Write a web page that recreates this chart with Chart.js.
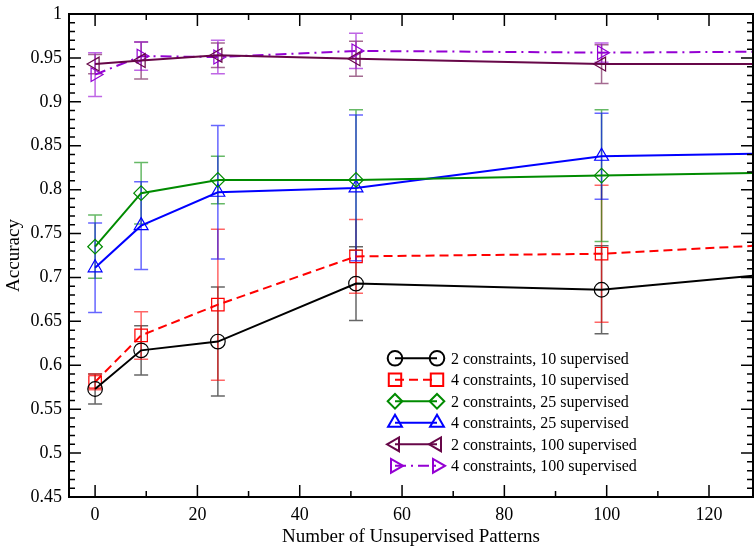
<!DOCTYPE html>
<html>
<head>
<meta charset="utf-8">
<script src="https://cdn.jsdelivr.net/npm/chart.js@4/dist/chart.umd.min.js"></script>
<style>
  html, body { margin: 0; padding: 0; background: #fff; }
  canvas { display: block; }
</style>
</head>
<body>
<canvas id="c" width="755" height="550"></canvas>
<script>
// ---------------- data ----------------
const xValues = [0, 9, 24, 51, 99, 128.6];
const seriesNames = [
  '2 constraints, 10 supervised',
  '4 constraints, 10 supervised',
  '2 constraints, 25 supervised',
  '4 constraints, 25 supervised',
  '2 constraints, 100 supervised',
  '4 constraints, 100 supervised'
];
const acc2c10  = [0.573, 0.617, 0.627, 0.693, 0.686, 0.702];
const err2c10  = [0.017, 0.028, 0.062, 0.042, 0.050, null];
const acc4c10  = [0.581, 0.634, 0.669, 0.724, 0.727, 0.736];
const err4c10  = [0.009, 0.027, 0.086, 0.042, 0.078, null];
const acc2c25  = [0.735, 0.796, 0.811, 0.811, 0.816, 0.819];
const err2c25  = [0.036, 0.035, 0.027, 0.080, 0.075, null];
const acc4c25  = [0.711, 0.759, 0.797, 0.802, 0.838, 0.841];
const err4c25  = [0.051, 0.050, 0.076, 0.083, 0.049, null];
const acc2c100 = [0.943, 0.947, 0.953, 0.949, 0.943, 0.943];
const err2c100 = [0.011, 0.021, 0.014, 0.020, 0.022, null];
const acc4c100 = [0.931, 0.952, 0.951, 0.958, 0.956, 0.957];
const err4c100 = [0.025, 0.016, 0.019, 0.020, 0.011, null];
const xTickValues = [0, 20, 40, 60, 80, 100, 120];
const yTickValues = [0.45, 0.5, 0.55, 0.6, 0.65, 0.7, 0.75, 0.8, 0.85, 0.9, 0.95, 1];
const xTitle = 'Number of Unsupervised Patterns';
const yTitle = 'Accuracy';

// ---------------- styling ----------------
const FONT = 'Liberation Serif';
const styles = [
  { color: 'rgb(0,0,0)',      err: 'rgba(0,0,0,0.6)',      point: 'circle',   radius: 7.3, rot: 0,   dash: [] },
  { color: 'rgb(255,0,0)',    err: 'rgba(255,0,0,0.6)',    point: 'rect',     radius: 8.8, rot: 0,   dash: [9, 5] },
  { color: 'rgb(0,139,0)',    err: 'rgba(0,139,0,0.6)',    point: 'rectRot',  radius: 7.3, rot: 0,   dash: [] },
  { color: 'rgb(0,0,255)',    err: 'rgba(0,0,255,0.6)',    point: 'triangle', radius: 8,   rot: 0,   dash: [] },
  { color: 'rgb(103,7,72)',   err: 'rgba(103,7,72,0.6)',   point: 'triangle', radius: 8,   rot: -90, dash: [] },
  { color: 'rgb(148,0,211)',  err: 'rgba(148,0,211,0.6)',  point: 'triangle', radius: 8,   rot: 90,  dash: [11, 5, 2, 5] }
];
const values = [acc2c10, acc4c10, acc2c25, acc4c25, acc2c100, acc4c100];
const errors = [err2c10, err4c10, err2c25, err4c25, err2c100, err4c100];

const datasets = values.map((vals, i) => ({
  label: seriesNames[i],
  data: xValues.map((x, j) => ({ x: x, y: vals[j] })),
  errors: errors[i],
  showLine: true,
  borderColor: styles[i].color,
  backgroundColor: 'rgba(0,0,0,0)',
  borderWidth: 2,
  borderDash: styles[i].dash,
  tension: 0,
  pointStyle: styles[i].point,
  pointRotation: styles[i].rot,
  pointRadius: xValues.map((x, j) => errors[i][j] == null ? 0 : styles[i].radius),
  pointBorderColor: styles[i].color,
  pointBackgroundColor: 'rgba(0,0,0,0)',
  pointBorderWidth: 1.2
}));

// ---------------- plugins ----------------
const errorBarPlugin = {
  id: 'errorBars',
  beforeDatasetsDraw(chart) {
    const { ctx, chartArea: a, scales: { x, y } } = chart;
    ctx.save();
    ctx.beginPath();
    ctx.rect(a.left, a.top, a.right - a.left, a.bottom - a.top);
    ctx.clip();
    chart.data.datasets.forEach((ds, i) => {
      ctx.strokeStyle = styles[i].err;
      ctx.lineWidth = 1.5;
      ds.data.forEach((p, j) => {
        const e = ds.errors[j];
        if (e == null) return;
        const px = x.getPixelForValue(p.x);
        const y1 = y.getPixelForValue(p.y + e);
        const y2 = y.getPixelForValue(p.y - e);
        ctx.beginPath();
        ctx.moveTo(px, y1); ctx.lineTo(px, y2);
        ctx.moveTo(px - 7, y1); ctx.lineTo(px + 7, y1);
        ctx.moveTo(px - 7, y2); ctx.lineTo(px + 7, y2);
        ctx.stroke();
      });
    });
    ctx.restore();
  }
};

const frameTicksPlugin = {
  id: 'frameTicks',
  afterDatasetsDraw(chart) {
    const { ctx, chartArea: a, scales: { x, y } } = chart;
    ctx.save();
    ctx.strokeStyle = '#000';
    ctx.lineWidth = 1.5;
    ctx.beginPath();
    for (let v = 0; v <= 130; v += 10) {
      const px = x.getPixelForValue(v);
      if (px < a.left || px > a.right) continue;
      const len = (v % 20 === 0) ? 12 : 6;
      ctx.moveTo(px, a.bottom); ctx.lineTo(px, a.bottom - len);
      ctx.moveTo(px, a.top); ctx.lineTo(px, a.top + len);
    }
    for (let k = 45; k <= 100; k++) {
      const py = y.getPixelForValue(k / 100);
      const len = (k % 5 === 0) ? 12 : 6;
      ctx.moveTo(a.left, py); ctx.lineTo(a.left + len, py);
      ctx.moveTo(a.right, py); ctx.lineTo(a.right - len, py);
    }
    ctx.stroke();
    ctx.lineWidth = 2;
    ctx.strokeRect(a.left, a.top, a.right - a.left, a.bottom - a.top);
    ctx.restore();
  }
};

function drawMarker(ctx, st, cx, cy) {
  Chart.helpers.drawPoint(ctx, {
    pointStyle: st.point, rotation: st.rot, radius: st.radius, borderWidth: 1.2
  }, cx, cy);
}

const legendPlugin = {
  id: 'customLegend',
  afterDraw(chart) {
    const ctx = chart.ctx;
    ctx.save();
    const x1 = 395, x2 = 437, tx = 451, y0 = 358.3, dy = 21.5;
    chart.data.datasets.forEach((ds, i) => {
      const st = styles[i];
      const yy = y0 + i * dy;
      ctx.strokeStyle = st.color;
      ctx.lineWidth = 2;
      ctx.setLineDash(st.dash);
      ctx.beginPath();
      ctx.moveTo(x1, yy); ctx.lineTo(x2, yy);
      ctx.stroke();
      ctx.setLineDash([]);
      ctx.strokeStyle = st.color;
      ctx.fillStyle = 'rgba(0,0,0,0)';
      drawMarker(ctx, st, x1, yy);
      drawMarker(ctx, st, x2, yy);
      ctx.fillStyle = '#000';
      ctx.font = '16px "' + FONT + '"';
      ctx.textAlign = 'left';
      ctx.textBaseline = 'middle';
      ctx.fillText(ds.label, tx, yy + 1);
    });
    ctx.restore();
  }
};

function zeroPad(s) { s.paddingLeft = 0; s.paddingRight = 0; s.paddingTop = 0; s.paddingBottom = 0; }

// ---------------- chart ----------------
new Chart(document.getElementById('c'), {
  type: 'scatter',
  data: { datasets: datasets },
  options: {
    responsive: false,
    devicePixelRatio: 1,
    animation: false,
    layout: { autoPadding: false, padding: { top: 14, right: 2, left: 0, bottom: 0 } },
    plugins: { legend: { display: false }, tooltip: { enabled: false } },
    scales: {
      x: {
        type: 'linear',
        min: -5.1,
        max: 128.6,
        grid: { display: false, drawTicks: false },
        border: { display: false },
        afterBuildTicks(s) { s.ticks = xTickValues.map(v => ({ value: v })); },
        afterFit(s) { s.height = 53; zeroPad(s); },
        ticks: {
          color: '#000',
          font: { family: FONT, size: 18 },
          padding: 7,
          maxRotation: 0,
          autoSkip: false,
          callback: v => String(v)
        },
        title: {
          display: true,
          text: xTitle,
          color: '#000',
          font: { family: FONT, size: 19 },
          padding: { top: 0, bottom: 2 }
        }
      },
      y: {
        type: 'linear',
        min: 0.45,
        max: 1,
        grid: { display: false, drawTicks: false },
        border: { display: false },
        afterBuildTicks(s) { s.ticks = yTickValues.map(v => ({ value: v })); },
        afterFit(s) { s.width = 69; zeroPad(s); },
        ticks: {
          color: '#000',
          font: { family: FONT, size: 18 },
          padding: 7,
          autoSkip: false,
          callback: v => String(Number(v.toFixed(2)))
        },
        title: {
          display: true,
          text: yTitle,
          color: '#000',
          font: { family: FONT, size: 19 },
          padding: { top: 3, bottom: 0 }
        }
      }
    }
  },
  plugins: [errorBarPlugin, frameTicksPlugin, legendPlugin]
});
</script>
</body>
</html>
